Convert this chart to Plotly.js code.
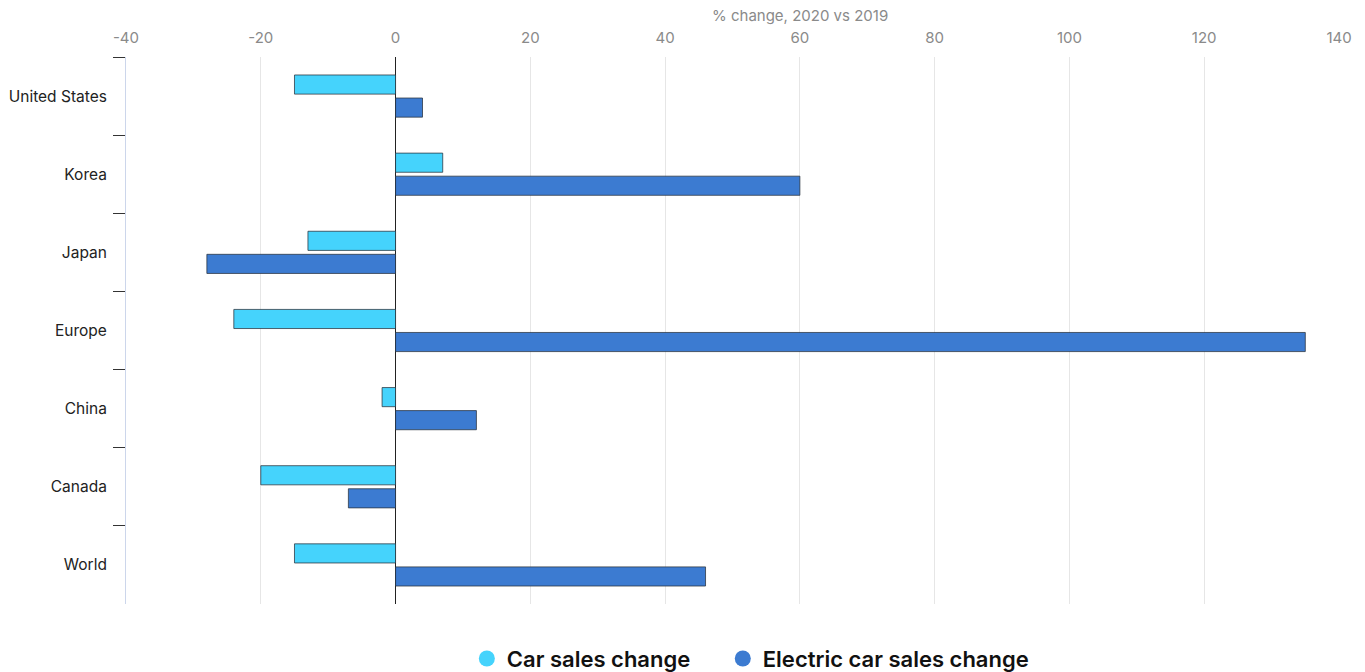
<!DOCTYPE html>
<html>
<head>
<meta charset="utf-8">
<script src="https://cdn.plot.ly/plotly-3.0.1.min.js"></script>
<style>
  html, body { margin: 0; padding: 0; background: #fff; }
  #chart { width: 1365px; height: 672px; }
</style>
</head>
<body>
<div id="chart"></div>
<script>
// Sales change by region, 2020 vs 2019 (%)
const regions = ["United States", "Korea", "Japan", "Europe", "China", "Canada", "World"];
const carSalesChange = [-15, 7, -13, -24, -2, -20, -15];
const electricCarSalesChange = [4, 60, -28, 135, 12, -7, 46];
const xTickValues = [-40, -20, 0, 20, 40, 60, 80, 100, 120, 140];
const axisTitle = "% change, 2020 vs 2019";

const carColor = "#45d3fc";
const evColor = "#3c7bd1";
const outline = { color: "rgba(40,50,60,0.75)", width: 1 };

const traces = [
  {
    type: "bar", orientation: "h", name: "Car sales change",
    y: regions, x: carSalesChange,
    marker: { color: carColor, line: outline },
    showlegend: false, hoverinfo: "x+y"
  },
  {
    type: "bar", orientation: "h", name: "Electric car sales change",
    y: regions, x: electricCarSalesChange,
    marker: { color: evColor, line: outline },
    showlegend: false, hoverinfo: "x+y"
  },
  // legend entries drawn as round markers, one legend box each
  {
    type: "scatter", mode: "markers", name: "Car sales change", legend: "legend",
    x: [null], y: [null], marker: { color: carColor, size: 18, symbol: "circle" },
    hoverinfo: "skip"
  },
  {
    type: "scatter", mode: "markers", name: "Electric car sales change", legend: "legend2",
    x: [null], y: [null], marker: { color: evColor, size: 18, symbol: "circle" },
    hoverinfo: "skip"
  }
];

const legendStyle = {
  orientation: "h", y: -0.1, yanchor: "middle", xanchor: "left",
  font: { size: 22, color: "#111", weight: 600 },
  itemwidth: 30, bgcolor: "rgba(0,0,0,0)"
};

const layout = {
  width: 1365, height: 672,
  margin: { l: 126, r: 26, t: 57, b: 68, autoexpand: false },
  paper_bgcolor: "#fff", plot_bgcolor: "#fff",
  font: { family: "Inter, 'Noto Sans', sans-serif", color: "#222" },
  barmode: "group",
  bargap: 0.41,
  bargroupgap: 0.17,
  showlegend: true,
  legend: Object.assign({}, legendStyle, { x: 0.281 }),
  legend2: Object.assign({}, legendStyle, { x: 0.492 }),
  annotations: [{
    xref: "paper", yref: "paper", x: 0.556, y: 1.075,
    xanchor: "center", yanchor: "middle", showarrow: false,
    text: axisTitle, font: { size: 15, color: "#8a8a8a" }
  }],
  xaxis: {
    side: "top",
    range: [-40, 140],
    tickvals: xTickValues,
    ticktext: xTickValues.map(String),
    ticks: "",
    ticklabelstandoff: 10,
    tickfont: { size: 15, color: "#8a8a8a" },
    showgrid: true, gridcolor: "#e6e6e6", gridwidth: 1,
    zeroline: true, zerolinecolor: "#222", zerolinewidth: 1,
    showline: false,
    fixedrange: true
  },
  yaxis: {
    type: "category",
    categoryorder: "array", categoryarray: regions,
    range: [6.5, -0.5],
    tickson: "boundaries",
    ticks: "outside", ticklen: 12, tickcolor: "#333", tickwidth: 1,
    ticklabelstandoff: 15,
    tickfont: { size: 15.5, color: "#222" },
    showline: true, linecolor: "#ccd6eb", linewidth: 1,
    showgrid: false, zeroline: false,
    fixedrange: true
  }
};

Plotly.newPlot("chart", traces, layout, { displayModeBar: false });
</script>
</body>
</html>
